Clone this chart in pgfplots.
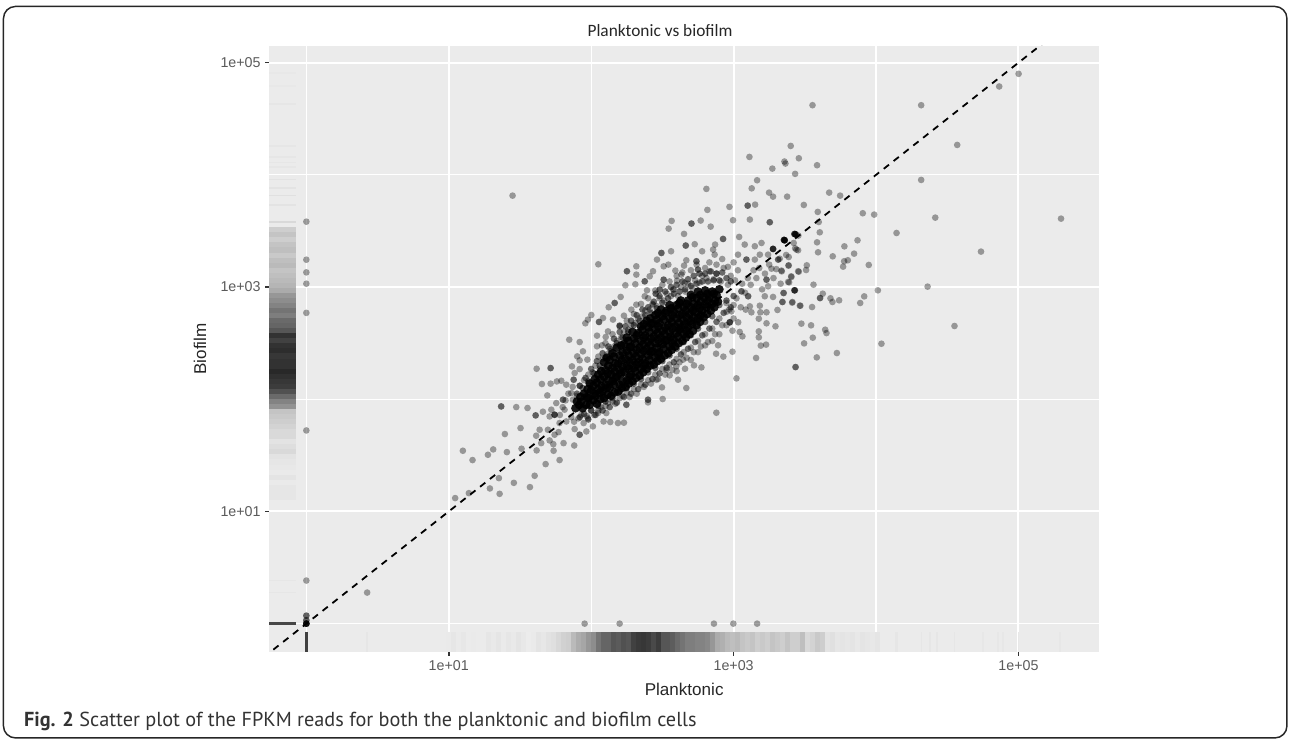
\documentclass[border=0pt]{standalone}
\usepackage{pgfplots}
\usepackage{pgfplotstable}
\usepackage{fontspec}
\pgfplotsset{compat=1.18}
\setmainfont{Liberation Sans}
\newfontfamily\capfont{PT Sans}
\newfontfamily\ttlfont{Carlito}
\definecolor{panel}{RGB}{235,235,235}
\definecolor{ticktxt}{RGB}{90,90,90}
\definecolor{tickc}{RGB}{51,51,51}
\pgfdeclareplotmark{rugb}{\pgfpathrectangle{\pgfqpoint{-\pgfplotmarksize}{0pt}}{\pgfqpoint{2\pgfplotmarksize}{14.8pt}}\pgfusepathqfill}
\pgfdeclareplotmark{rugl}{\pgfpathrectangle{\pgfqpoint{0pt}{-\pgfplotmarksize}}{\pgfqpoint{20pt}{2\pgfplotmarksize}}\pgfusepathqfill}
\pgfdeclareplotmark{dot}{\pgfpathcircle{\pgfpointorigin}{\pgfplotmarksize}\pgfusepathqfill}
% values are log10(FPKM)
\pgfplotstableread[row sep=\\]{x g\\
1.00 232\\1.035 228\\1.07 232\\1.105 229\\1.14 233\\1.175 232\\1.28 228\\1.315 231\\1.35 227\\1.385 232\\1.42 228\\1.455 231\\1.49 226\\1.525 230\\1.56 234\\1.595 232\\1.63 226\\1.665 229\\1.70 224\\1.735 221\\1.77 214\\1.805 208\\1.84 205\\1.875 185\\1.91 172\\1.945 165\\1.98 150\\2.015 140\\2.05 115\\2.085 100\\2.12 100\\2.155 85\\2.19 90\\2.225 80\\2.26 85\\2.295 65\\2.33 58\\2.365 55\\2.40 60\\2.435 72\\2.47 60\\2.505 85\\2.54 85\\2.575 92\\2.61 105\\2.645 115\\2.68 125\\2.715 125\\2.75 130\\2.785 130\\2.82 135\\2.855 150\\2.89 170\\2.925 175\\2.96 185\\2.995 190\\3.03 185\\3.065 195\\3.10 200\\3.135 195\\3.17 205\\3.205 200\\3.24 205\\3.275 195\\3.31 200\\3.345 205\\3.38 195\\3.415 205\\3.45 205\\3.485 190\\3.52 215\\3.555 210\\3.59 200\\3.625 205\\3.66 225\\3.695 222\\3.73 228\\3.765 226\\3.80 228\\3.835 226\\3.87 230\\3.905 226\\3.94 228\\3.975 230\\4.01 227\\
}\rugbottom
\pgfplotstableread[row sep=\\]{x g\\
0.427 228\\4.14 228\\4.15 228\\4.32 228\\4.38 228\\4.43 228\\4.55 228\\4.75 229\\4.855 229\\4.89 229\\5.00 230\\5.29 229\\
}\rugbottomthin
\pgfplotstableread[row sep=\\]{y g\\
3.51 205\\3.465 195\\3.42 205\\3.375 195\\3.33 190\\3.285 200\\3.24 190\\3.195 185\\3.15 195\\3.105 190\\3.06 185\\3.015 180\\2.97 170\\2.925 150\\2.88 140\\2.835 130\\2.79 115\\2.745 125\\2.70 105\\2.655 100\\2.61 85\\2.565 50\\2.52 65\\2.475 50\\2.43 45\\2.385 55\\2.34 50\\2.295 50\\2.25 40\\2.205 48\\2.16 55\\2.115 60\\2.07 80\\2.025 105\\1.98 130\\1.935 145\\1.89 195\\1.845 200\\1.80 205\\1.755 210\\1.71 215\\1.665 215\\1.62 225\\1.575 220\\1.53 215\\1.485 225\\1.44 228\\1.395 230\\1.35 232\\1.305 226\\1.26 232\\1.215 228\\1.17 228\\1.125 228\\
}\rugleft
\pgfplotstableread[row sep=\\]{y g\\
3.58 215\\3.73 225\\3.815 222\\3.885 225\\3.96 225\\4.07 228\\4.11 228\\4.16 228\\4.26 228\\4.63 228\\4.79 230\\4.91 230\\0.384 228\\0.277 228\\
}\ruglefthin
% outlying points, one by one
\pgfplotstableread[row sep=\\]{x y\\
3.554 4.621\\4.317 4.621\\5.001 4.901\\4.865 4.788\\4.570 4.267\\3.401 4.258\\3.357 4.119\\3.364 4.101\\3.458 4.148\\3.586 4.086\\3.432 4.009\\4.317 3.955\\3.376 3.806\\3.671 3.842\\3.748 3.815\\3.493 3.732\\3.591 3.670\\3.907 3.658\\3.987 3.646\\4.416 3.619\\5.299 3.610\\3.598 3.580\\3.605 3.488\\4.144 3.482\\3.586 3.399\\3.870 3.417\\3.778 3.363\\3.593 3.310\\3.846 3.298\\4.737 3.316\\3.696 3.274\\3.776 3.230\\3.802 3.239\\3.769 3.182\\3.949 3.197\\3.514 3.194\\3.509 3.152\\3.458 3.137\\3.404 3.096\\3.390 3.042\\3.385 3.191\\3.387 3.268\\3.369 3.286\\3.453 3.328\\3.432 3.346\\3.427 3.473\\3.427 3.473\\3.427 3.473\\3.455 3.459\\3.354 3.420\\3.354 3.420\\3.354 3.420\\3.354 3.420\\3.422 3.393\\3.324 3.253\\3.338 3.140\\3.350 2.947\\3.343 2.867\\3.411 2.861\\3.469 2.834\\3.551 2.822\\3.561 3.021\\3.427 2.971\\3.427 2.971\\3.626 2.941\\3.607 2.902\\3.607 2.902\\3.680 2.900\\3.694 2.867\\3.741 2.882\\3.917 2.917\\3.889 2.858\\4.013 2.971\\4.362 3.004\\4.551 2.653\\3.476 2.674\\3.544 2.659\\3.643 2.620\\3.652 2.590\\3.556 2.549\\3.495 2.498\\4.038 2.495\\3.725 2.412\\3.584 2.373\\3.436 2.287\\
1.045 1.119\\1.141 1.163\\1.357 1.157\\1.289 1.205\\1.457 1.255\\1.570 1.217\\1.603 1.318\\1.352 1.297\\1.167 1.458\\1.099 1.541\\1.275 1.505\\1.312 1.553\\1.408 1.529\\1.511 1.559\\1.617 1.544\\1.680 1.422\\1.778 1.458\\1.736 1.541\\1.734 1.600\\1.806 1.609\\1.881 1.588\\1.394 1.690\\1.504 1.743\\1.614 1.675\\1.638 1.728\\1.649 1.609\\1.708 1.633\\1.743 1.684\\1.696 1.728\\1.771 1.707\\1.368 1.936\\1.368 1.936\\1.474 1.930\\1.553 1.922\\1.610 1.856\\1.610 1.856\\1.661 1.889\\1.708 1.847\\1.743 1.862\\1.743 1.862\\1.743 1.862\\1.720 1.907\\1.755 1.966\\1.802 1.996\\1.802 1.996\\1.692 2.034\\1.654 2.136\\1.715 2.139\\1.759 2.159\\1.790 2.165\\1.825 2.130\\1.617 2.272\\1.715 2.278\\1.715 2.278\\1.865 2.293\\1.877 2.174\\1.877 2.174\\1.919 2.269\\1.884 2.234\\1.846 2.531\\1.919 2.510\\1.902 2.382\\1.942 2.427\\1.973 2.353\\1.919 2.347\\1.860 2.055\\1.872 1.996\\1.813 1.907\\1.825 1.802\\1.778 1.788\\1.884 1.734\\1.919 1.684\\1.919 1.684\\1.966 1.713\\2.012 1.758\\2.087 1.802\\2.134 1.797\\2.188 1.788\\2.230 1.791\\1.947 1.788\\1.977 1.832\\2.048 1.877\\2.106 1.877\\2.247 1.951\\2.247 1.951\\2.399 1.996\\2.399 1.996\\2.502 2.002\\2.399 1.972\\2.879 1.880\\2.668 2.100\\2.497 2.106\\2.610 2.174\\2.774 2.284\\2.659 2.272\\2.722 2.302\\2.598 2.293\\2.458 2.174\\2.551 2.213\\2.528 2.263\\2.645 2.353\\3.020 2.186\\3.158 2.368\\3.434 2.287\\3.191 2.478\\3.228 2.487\\3.177 2.605\\3.177 2.552\\3.294 2.650\\3.231 2.677\\3.177 2.718\\3.188 2.775\\3.231 2.775\\3.308 2.796\\3.125 2.775\\3.085 2.799\\3.184 2.834\\3.343 2.867\\3.413 2.867\\3.277 2.912\\3.352 2.947\\3.430 2.971\\3.430 2.971\\3.465 2.834\\3.062 2.561\\2.992 2.424\\2.928 2.380\\2.877 2.406\\2.891 2.481\\3.043 2.600\\2.992 2.611\\2.973 2.686\\2.973 2.686\\2.973 2.686\\3.032 2.686\\2.985 2.784\\2.949 2.858\\3.102 2.918\\3.102 2.918\\3.055 2.962\\3.055 2.962\\3.114 2.828\\3.219 2.918\\3.231 3.066\\3.231 3.066\\3.242 3.007\\3.383 3.046\\3.406 3.090\\3.453 3.141\\3.387 3.194\\3.336 3.147\\3.266 3.164\\3.313 3.245\\3.313 3.245\\3.359 3.417\\3.359 3.417\\3.359 3.417\\3.359 3.417\\3.434 3.471\\3.434 3.471\\3.434 3.471\\3.434 3.471\\3.277 3.340\\3.277 3.340\\3.277 3.340\\3.277 3.340\\3.441 3.334\\3.196 3.393\\3.149 3.364\\3.078 3.379\\3.090 3.245\\3.090 3.245\\3.031 3.289\\3.242 3.289\\3.149 3.245\\3.184 3.289\\3.254 3.578\\3.254 3.578\\3.114 3.602\\3.039 3.447\\2.996 3.596\\2.971 3.715\\3.099 3.726\\3.099 3.726\\3.151 3.735\\2.816 3.688\\2.565 3.590\\2.704 3.566\\2.704 3.566\\2.769 3.593\\2.839 3.539\\2.544 3.521\\2.652 3.474\\2.664 3.370\\2.664 3.370\\2.727 3.382\\2.561 3.319\\2.493 3.304\\2.493 3.304\\2.462 3.245\\2.509 3.185\\2.542 3.200\\2.668 3.239\\2.779 3.319\\2.870 3.379\\2.926 3.429\\2.926 3.429\\2.856 3.334\\2.867 3.289\\2.739 3.230\\2.739 3.230\\2.652 3.191\\2.750 3.156\\2.750 3.156\\2.591 3.147\\2.633 3.111\\2.050 3.203\\2.317 3.185\\2.251 3.141\\2.251 3.141\\2.317 3.111\\2.434 3.141\\2.376 3.051\\2.376 3.051\\2.411 3.096\\2.240 3.016\\2.310 3.025\\2.207 2.912\\2.165 2.858\\2.165 2.858\\2.123 2.820\\2.001 2.751\\1.959 2.677\\2.055 2.689\\2.055 2.689\\2.083 2.724\\1.977 2.710\\2.153 2.710\\2.230 2.745\\2.118 2.605\\2.041 2.567\\2.102 2.555\\2.041 2.472\\2.076 2.481\\2.200 2.656\\2.200 2.656\\2.282 2.799\\2.317 2.843\\2.392 2.971\\2.453 2.941\\2.453 2.941\\2.509 3.066\\2.509 3.066\\2.603 3.057\\2.657 3.037\\2.481 2.977\\2.481 2.977\\2.575 2.977\\2.376 2.918\\2.434 2.843\\
3.111 4.160\\3.272 4.056\\3.165 3.952\\3.127 3.880\\2.809 3.875\\3.249 3.842\\3.277 3.806\\1.448 3.815\\
0 3.583\\0 3.244\\0 3.131\\0 3.03\\0 2.77\\0 1.722\\0 0.384\\0 0.071\\0 0.071\\0 0.03\\0 0.03\\0 0\\0 0\\0 0\\0 0\\0 0\\0 0\\0.427 0.277\\1.954 0\\2.2 0\\2.862 0\\2.998 0\\3.165 0\\
}\outer
% the fringe of the dense cloud
\pgfplotstableread[row sep=\\]{x y\\
1.78 1.86\\1.80 1.93\\1.82 1.99\\1.84 2.05\\1.86 1.84\\1.87 2.11\\1.88 1.80\\1.90 2.03\\1.91 1.83\\1.92 2.12\\1.93 1.86\\1.95 2.17\\1.97 1.85\\1.98 2.22\\2.00 1.90\\2.01 2.24\\2.02 1.86\\2.03 2.30\\2.05 1.90\\2.06 2.27\\2.07 1.93\\2.08 2.36\\2.10 1.94\\2.11 2.40\\2.12 1.97\\2.13 2.45\\2.15 1.98\\2.16 2.47\\2.17 1.96\\2.18 2.52\\2.20 2.01\\2.21 2.55\\2.22 2.03\\2.23 2.60\\2.25 2.06\\2.26 2.62\\2.27 2.02\\2.28 2.66\\2.30 2.09\\2.31 2.68\\2.32 2.05\\2.33 2.72\\2.35 2.13\\2.36 2.74\\2.37 2.11\\2.38 2.79\\2.40 2.17\\2.41 2.80\\2.42 2.14\\2.43 2.85\\2.45 2.22\\2.46 2.83\\2.47 2.18\\2.48 2.90\\2.50 2.27\\2.51 2.88\\2.52 2.22\\2.53 2.94\\2.55 2.31\\2.56 2.92\\2.57 2.26\\2.58 2.98\\2.60 2.36\\2.61 2.92\\2.62 2.33\\2.63 3.00\\2.65 2.42\\2.66 2.96\\2.67 2.37\\2.68 3.03\\2.70 2.46\\2.71 2.99\\2.72 2.42\\2.73 3.06\\2.75 2.52\\2.76 3.04\\2.77 2.47\\2.78 3.10\\2.80 2.58\\2.81 3.08\\2.82 2.51\\2.83 3.14\\2.85 2.63\\2.86 3.07\\2.87 2.58\\2.88 3.12\\2.90 2.72\\2.91 3.05\\2.92 2.66\\2.93 3.17\\2.95 2.78\\2.96 3.02\\2.97 2.80\\2.98 3.10\\3.00 2.84\\3.01 3.06\\3.02 2.90\\3.03 3.15\\3.05 2.82\\3.06 3.03\\3.08 2.95\\3.10 3.08\\3.12 3.02\\3.14 3.15\\3.16 3.08\\3.18 3.17\\3.20 2.98\\3.22 3.12\\3.25 3.20\\3.28 3.08\\3.30 3.16\\3.33 3.03\\
2.60 3.10\\2.64 3.13\\2.70 3.15\\2.74 3.20\\2.80 3.17\\2.83 3.22\\2.88 3.20\\2.92 3.25\\2.96 3.18\\3.00 3.22\\2.55 3.05\\2.50 3.02\\2.45 2.97\\2.40 2.90\\2.35 2.85\\2.30 2.76\\2.25 2.70\\2.20 2.65\\2.15 2.58\\2.10 2.50\\2.05 2.38\\2.60 2.25\\2.70 2.35\\2.75 2.42\\2.80 2.48\\2.85 2.52\\2.90 2.58\\2.95 2.66\\3.00 2.72\\
}\fringe
% the shoulder of the dense cloud
\pgfplotstableread[row sep=\\]{x y\\
1.90 2.05\\1.92 2.12\\1.94 2.10\\1.96 2.19\\1.98 2.16\\2.00 2.27\\2.02 2.23\\2.04 2.34\\2.06 2.30\\2.08 2.41\\2.10 2.37\\2.12 2.47\\2.14 2.43\\2.16 2.54\\2.18 2.50\\2.20 2.60\\2.22 2.55\\2.24 2.65\\2.26 2.60\\2.28 2.70\\2.30 2.66\\2.32 2.75\\2.34 2.70\\2.36 2.80\\2.38 2.75\\2.40 2.82\\2.42 2.77\\2.44 2.87\\2.46 2.81\\2.48 2.92\\2.50 2.86\\2.52 2.96\\2.54 2.90\\2.56 3.00\\2.58 2.94\\2.60 3.02\\2.62 2.96\\2.64 3.05\\2.66 2.98\\2.68 3.07\\2.70 3.01\\2.72 3.10\\2.74 3.03\\2.76 3.12\\2.78 3.05\\2.80 3.12\\2.82 3.05\\2.84 3.14\\2.86 3.06\\2.88 3.12\\2.90 3.06\\2.92 3.13\\2.95 3.08\\2.98 3.05\\
1.92 1.84\\1.95 1.87\\1.98 1.82\\2.00 1.90\\2.03 1.86\\2.05 1.94\\2.08 1.90\\2.10 1.98\\2.13 1.93\\2.15 2.01\\2.18 1.97\\2.20 2.07\\2.23 2.02\\2.25 2.10\\2.28 2.05\\2.30 2.14\\2.33 2.09\\2.35 2.18\\2.38 2.13\\2.40 2.24\\2.43 2.18\\2.45 2.28\\2.48 2.23\\2.50 2.34\\2.53 2.28\\2.55 2.39\\2.58 2.33\\2.60 2.45\\2.63 2.40\\2.65 2.51\\2.68 2.45\\2.70 2.57\\2.73 2.51\\2.75 2.63\\2.78 2.57\\2.80 2.69\\2.83 2.63\\2.85 2.74\\2.88 2.69\\2.90 2.84\\2.93 2.77\\2.95 2.88\\2.98 2.82\\3.00 2.92\\
}\shoulder
% the dense core, where single points cannot be told apart
\pgfplotstableread[row sep=\\]{x y\\
1.89 1.92\\1.90 1.98\\1.94 1.92\\1.93 1.98\\1.95 2.05\\1.99 1.95\\1.98 2.01\\2.00 2.08\\1.99 2.14\\2.04 1.96\\2.03 2.03\\2.05 2.09\\2.04 2.15\\2.05 2.22\\2.09 2.01\\2.08 2.07\\2.10 2.13\\2.09 2.20\\2.10 2.26\\2.09 2.33\\2.14 2.03\\2.13 2.10\\2.15 2.16\\2.14 2.22\\2.15 2.28\\2.13 2.35\\2.15 2.41\\2.19 2.07\\2.20 2.13\\2.18 2.20\\2.20 2.26\\2.19 2.32\\2.20 2.39\\2.18 2.46\\2.24 2.11\\2.25 2.17\\2.23 2.24\\2.25 2.30\\2.24 2.36\\2.25 2.43\\2.23 2.49\\2.25 2.55\\2.29 2.16\\2.28 2.22\\2.30 2.28\\2.29 2.35\\2.30 2.41\\2.28 2.47\\2.30 2.54\\2.29 2.60\\2.34 2.21\\2.35 2.27\\2.33 2.33\\2.35 2.40\\2.34 2.46\\2.35 2.52\\2.33 2.59\\2.35 2.65\\2.39 2.27\\2.38 2.32\\2.40 2.39\\2.39 2.45\\2.40 2.51\\2.38 2.57\\2.40 2.64\\2.39 2.70\\2.44 2.31\\2.45 2.37\\2.43 2.43\\2.45 2.50\\2.44 2.56\\2.45 2.62\\2.43 2.68\\2.45 2.75\\2.49 2.36\\2.48 2.42\\2.50 2.49\\2.49 2.55\\2.50 2.61\\2.48 2.68\\2.50 2.74\\2.49 2.80\\2.54 2.41\\2.55 2.47\\2.53 2.53\\2.55 2.60\\2.54 2.66\\2.55 2.72\\2.53 2.79\\2.55 2.84\\2.59 2.47\\2.58 2.53\\2.60 2.59\\2.59 2.65\\2.60 2.72\\2.58 2.78\\2.60 2.84\\2.64 2.52\\2.65 2.58\\2.63 2.64\\2.65 2.70\\2.64 2.76\\2.65 2.82\\2.63 2.88\\2.69 2.58\\2.68 2.64\\2.70 2.70\\2.69 2.76\\2.70 2.82\\2.68 2.88\\2.70 2.93\\2.74 2.66\\2.75 2.72\\2.73 2.78\\2.75 2.84\\2.74 2.90\\2.75 2.96\\2.79 2.73\\2.78 2.79\\2.80 2.85\\2.79 2.91\\2.80 2.97\\2.84 2.79\\2.85 2.85\\2.83 2.91\\2.85 2.96\\2.89 2.87\\2.88 2.93\\2.90 2.98\\
1.915 1.95\\1.925 2.02\\1.965 1.95\\1.97 2.02\\1.975 2.09\\2.015 1.99\\2.02 2.05\\2.015 2.12\\2.025 2.18\\2.065 2.00\\2.06 2.06\\2.07 2.12\\2.065 2.18\\2.07 2.25\\2.115 2.04\\2.11 2.10\\2.12 2.17\\2.115 2.23\\2.12 2.30\\2.11 2.37\\2.165 2.06\\2.16 2.13\\2.17 2.19\\2.165 2.25\\2.17 2.32\\2.16 2.38\\2.215 2.10\\2.22 2.16\\2.21 2.23\\2.22 2.29\\2.215 2.35\\2.22 2.42\\2.21 2.48\\2.265 2.14\\2.27 2.20\\2.26 2.27\\2.27 2.33\\2.265 2.39\\2.27 2.46\\2.26 2.52\\2.315 2.19\\2.31 2.25\\2.32 2.31\\2.315 2.38\\2.32 2.44\\2.31 2.50\\2.32 2.57\\2.365 2.24\\2.37 2.30\\2.36 2.36\\2.37 2.43\\2.365 2.49\\2.37 2.55\\2.36 2.62\\2.37 2.67\\2.415 2.30\\2.41 2.35\\2.42 2.42\\2.415 2.48\\2.42 2.54\\2.41 2.60\\2.42 2.67\\2.415 2.72\\2.465 2.34\\2.47 2.40\\2.46 2.46\\2.47 2.53\\2.465 2.59\\2.47 2.65\\2.46 2.71\\2.47 2.77\\2.515 2.39\\2.51 2.45\\2.52 2.52\\2.515 2.58\\2.52 2.64\\2.51 2.71\\2.52 2.77\\2.565 2.44\\2.57 2.50\\2.56 2.56\\2.57 2.63\\2.565 2.69\\2.57 2.75\\2.56 2.81\\2.615 2.50\\2.61 2.56\\2.62 2.62\\2.615 2.68\\2.62 2.75\\2.61 2.81\\2.62 2.86\\2.665 2.55\\2.67 2.61\\2.66 2.67\\2.67 2.73\\2.665 2.79\\2.67 2.85\\2.715 2.61\\2.71 2.67\\2.72 2.73\\2.715 2.79\\2.72 2.85\\2.71 2.91\\2.765 2.69\\2.77 2.75\\2.76 2.81\\2.77 2.87\\2.765 2.93\\2.815 2.76\\2.81 2.82\\2.82 2.88\\2.815 2.94\\2.865 2.82\\2.87 2.88\\2.86 2.94\\
}\core
\begin{document}
\begin{tikzpicture}[x=1pt,y=1pt]
\path[use as bounding box] (0,0) rectangle (967.5,555.75);
\draw[line width=1.1pt,rounded corners=9pt,black!85] (2.6,2.3) rectangle (965.2,550.9);
\begin{axis}[
  at={(201.98pt,66.98pt)},anchor=south west,
  scale only axis,width=622.3pt,height=454.3pt,
  xmode=log,ymode=log,
  xmin=0.5495,xmax=368000,ymin=0.5623,ymax=141000,
  axis background/.style={fill=panel},
  axis line style={draw=none},
  xtick={10,1000,100000},ytick={10,1000,100000},
  minor xtick={1,100,10000},minor ytick={1,100,10000},
  xticklabels={1e+01,1e+03,1e+05},yticklabels={1e+01,1e+03,1e+05},
  xtick pos=bottom,ytick pos=left,tick align=outside,
  major tick length=3pt,minor tick length=0pt,
  tick style={draw=tickc,line width=1.1pt},
  grid=both,
  major grid style={white,line width=1.5pt},
  minor grid style={white,line width=0.85pt},
  tick label style={font=\fontsize{10.7}{12}\selectfont,text=ticktxt},
  xlabel={Planktonic},ylabel={Biofilm},
  label style={font=\fontsize{12.8}{14}\selectfont,text=black!85},
  xlabel style={at={(axis description cs:0.5,-0.0616)},anchor=center},
  ylabel style={at={(axis description cs:-0.0835,0.5)},anchor=center},
  colormap={greys}{gray(0cm)=(0);gray(1cm)=(1)},point meta min=0,point meta max=255,
]
\addplot[scatter,only marks,mark=rugb,mark size=1.95pt,scatter/use mapped color={draw=none,fill=mapped color},point meta=explicit] table[x expr=10^\thisrow{x},y expr=0.5624,meta=g]{\rugbottom};
\addplot[scatter,only marks,mark=rugb,mark size=0.6pt,scatter/use mapped color={draw=none,fill=mapped color},point meta=explicit] table[x expr=10^\thisrow{x},y expr=0.5624,meta=g]{\rugbottomthin};
\addplot[scatter,only marks,mark=rugl,mark size=1.95pt,scatter/use mapped color={draw=none,fill=mapped color},point meta=explicit] table[x expr=0.5496,y expr=10^\thisrow{y},meta=g]{\rugleft};
\addplot[scatter,only marks,mark=rugl,mark size=0.6pt,scatter/use mapped color={draw=none,fill=mapped color},point meta=explicit] table[x expr=0.5496,y expr=10^\thisrow{y},meta=g]{\ruglefthin};
\addplot[only marks,mark=rugb,mark size=1pt,mark options={draw=none,fill=black!75}] coordinates {(1,0.5624)};
\addplot[only marks,mark=rugl,mark size=1pt,mark options={draw=none,fill=black!72}] coordinates {(0.5496,1)};
\addplot[only marks,mark=dot,mark size=2.5pt,mark options={fill=black,fill opacity=0.36}] table[x expr=10^\thisrow{x},y expr=10^\thisrow{y}]{\outer};
\addplot[only marks,mark=dot,mark size=2.5pt,mark options={fill=black,fill opacity=0.36}] table[x expr=10^\thisrow{x},y expr=10^\thisrow{y}]{\fringe};
\addplot[only marks,mark=dot,mark size=2.5pt,mark options={fill=black,fill opacity=0.55}] table[x expr=10^\thisrow{x},y expr=10^\thisrow{y}]{\shoulder};
\addplot[only marks,mark=dot,mark size=3.3pt,mark options={fill=black,fill opacity=0.9}] table[x expr=10^\thisrow{x},y expr=10^\thisrow{y}]{\core};
\addplot[black,line width=1.35pt,dash pattern=on 5pt off 4.4pt] coordinates {(0.5,0.5)(150000,150000)};
\end{axis}
\node[anchor=center,font=\ttlfont\fontsize{13}{15}\selectfont,text=black!85] at (495,532.5) {Planktonic vs biofilm};
\node[anchor=west,font=\capfont\fontsize{15.2}{17}\selectfont,text=black!80] at (14.5,14.5) {\textbf{Fig. 2} Scatter plot of the FPKM reads for both the planktonic and biofilm cells};
\end{tikzpicture}
\end{document}
